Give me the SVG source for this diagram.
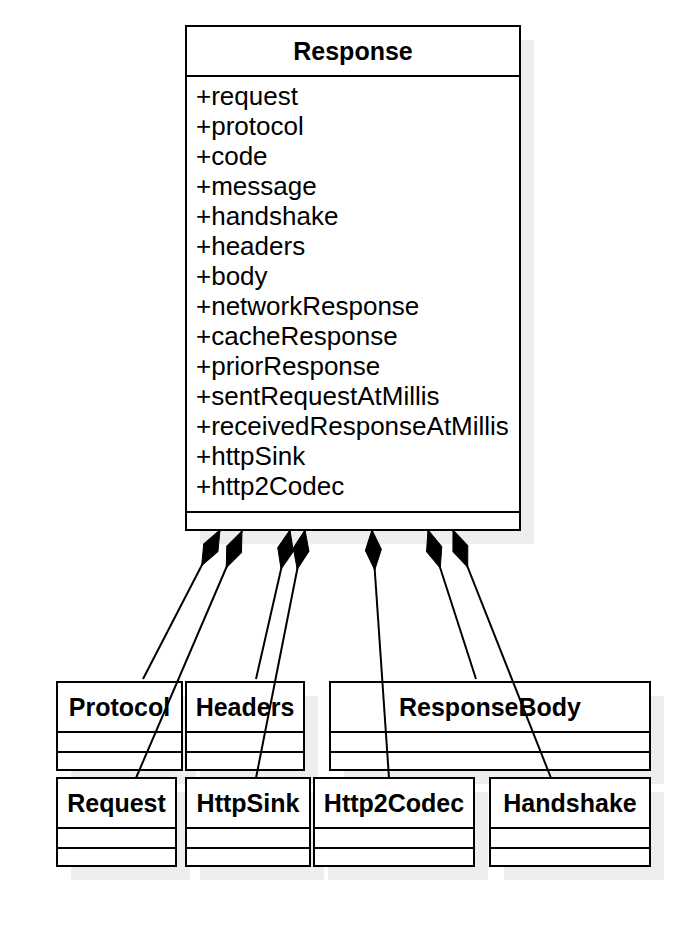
<svg xmlns="http://www.w3.org/2000/svg" width="692" height="940" viewBox="0 0 692 940">
<style>
.sh{fill:#eeeeee;stroke:none}
.box{fill:#ffffff;stroke:#000000;stroke-width:2}
.ln{stroke:#000000;stroke-width:2;fill:none}
.t{font-family:"Liberation Sans",Arial,sans-serif;font-size:25px;font-weight:bold;text-anchor:middle;fill:#000000}
.a{font-family:"Liberation Sans",Arial,sans-serif;font-size:26px;fill:#000000}
.con{stroke:#000000;stroke-width:2;fill:none}
.dia{fill:#000000;stroke:#000000;stroke-width:1}
</style>
<rect width="692" height="940" fill="#ffffff"/>
<g id="shadows">
<rect class="sh" x="200" y="40" width="334" height="504"/>
<rect class="sh" x="71" y="696" width="125" height="88"/>
<rect class="sh" x="200" y="696" width="118" height="88"/>
<rect class="sh" x="344" y="696" width="320" height="88"/>
<rect class="sh" x="71" y="792" width="119" height="88"/>
<rect class="sh" x="200" y="792" width="124" height="88"/>
<rect class="sh" x="328" y="792" width="160" height="88"/>
<rect class="sh" x="504" y="792" width="160" height="88"/>
</g>
<g id="Response">
<rect class="box" x="186" y="26" width="334" height="504"/>
<line class="ln" x1="186" y1="76" x2="520" y2="76"/>
<line class="ln" x1="186" y1="512" x2="520" y2="512"/>
<text class="t" x="353" y="60">Response</text>
<text class="a" x="196" y="105">+request</text>
<text class="a" x="196" y="135">+protocol</text>
<text class="a" x="196" y="165">+code</text>
<text class="a" x="196" y="195">+message</text>
<text class="a" x="196" y="225">+handshake</text>
<text class="a" x="196" y="255">+headers</text>
<text class="a" x="196" y="285">+body</text>
<text class="a" x="196" y="315">+networkResponse</text>
<text class="a" x="196" y="345">+cacheResponse</text>
<text class="a" x="196" y="375">+priorResponse</text>
<text class="a" x="196" y="405">+sentRequestAtMillis</text>
<text class="a" x="196" y="435">+receivedResponseAtMillis</text>
<text class="a" x="196" y="465">+httpSink</text>
<text class="a" x="196" y="495">+http2Codec</text>
</g>
<g id="Protocol">
<rect class="box" x="57" y="682" width="125" height="88"/>
<line class="ln" x1="57" y1="732" x2="182" y2="732"/>
<line class="ln" x1="57" y1="752" x2="182" y2="752"/>
<text class="t" x="119.5" y="716">Protocol</text>
</g>
<g id="Headers">
<rect class="box" x="186" y="682" width="118" height="88"/>
<line class="ln" x1="186" y1="732" x2="304" y2="732"/>
<line class="ln" x1="186" y1="752" x2="304" y2="752"/>
<text class="t" x="245" y="716">Headers</text>
</g>
<g id="ResponseBody">
<rect class="box" x="330" y="682" width="320" height="88"/>
<line class="ln" x1="330" y1="732" x2="650" y2="732"/>
<line class="ln" x1="330" y1="752" x2="650" y2="752"/>
<text class="t" x="490" y="716">ResponseBody</text>
</g>
<g id="Request">
<rect class="box" x="57" y="778" width="119" height="88"/>
<line class="ln" x1="57" y1="828" x2="176" y2="828"/>
<line class="ln" x1="57" y1="848" x2="176" y2="848"/>
<text class="t" x="116.5" y="812">Request</text>
</g>
<g id="HttpSink">
<rect class="box" x="186" y="778" width="124" height="88"/>
<line class="ln" x1="186" y1="828" x2="310" y2="828"/>
<line class="ln" x1="186" y1="848" x2="310" y2="848"/>
<text class="t" x="248" y="812">HttpSink</text>
</g>
<g id="Http2Codec">
<rect class="box" x="314" y="778" width="160" height="88"/>
<line class="ln" x1="314" y1="828" x2="474" y2="828"/>
<line class="ln" x1="314" y1="848" x2="474" y2="848"/>
<text class="t" x="394" y="812">Http2Codec</text>
</g>
<g id="Handshake">
<rect class="box" x="490" y="778" width="160" height="88"/>
<line class="ln" x1="490" y1="828" x2="650" y2="828"/>
<line class="ln" x1="490" y1="848" x2="650" y2="848"/>
<text class="t" x="570" y="812">Handshake</text>
</g>
<g id="connectors">
<line class="con" x1="220" y1="530" x2="143" y2="679"/>
<polygon class="dia" points="0,0 -8,20 0,40 8,20" transform="translate(220,530) rotate(27.3)"/>
<line class="con" x1="242" y1="531" x2="136" y2="778"/>
<polygon class="dia" points="0,0 -8,20 0,40 8,20" transform="translate(242,531) rotate(23.2)"/>
<line class="con" x1="290" y1="530" x2="256" y2="679"/>
<polygon class="dia" points="0,0 -8,20 0,40 8,20" transform="translate(290,530) rotate(12.9)"/>
<line class="con" x1="305" y1="530" x2="256" y2="778"/>
<polygon class="dia" points="0,0 -8,20 0,40 8,20" transform="translate(305,530) rotate(11.2)"/>
<line class="con" x1="372" y1="530" x2="389" y2="778"/>
<polygon class="dia" points="0,0 -8,20 0,40 8,20" transform="translate(372,530) rotate(-3.9)"/>
<line class="con" x1="428" y1="530" x2="476" y2="679"/>
<polygon class="dia" points="0,0 -8,20 0,40 8,20" transform="translate(428,530) rotate(-17.9)"/>
<line class="con" x1="453" y1="530" x2="551" y2="778"/>
<polygon class="dia" points="0,0 -8,20 0,40 8,20" transform="translate(453,530) rotate(-21.6)"/>
</g>
</svg>
